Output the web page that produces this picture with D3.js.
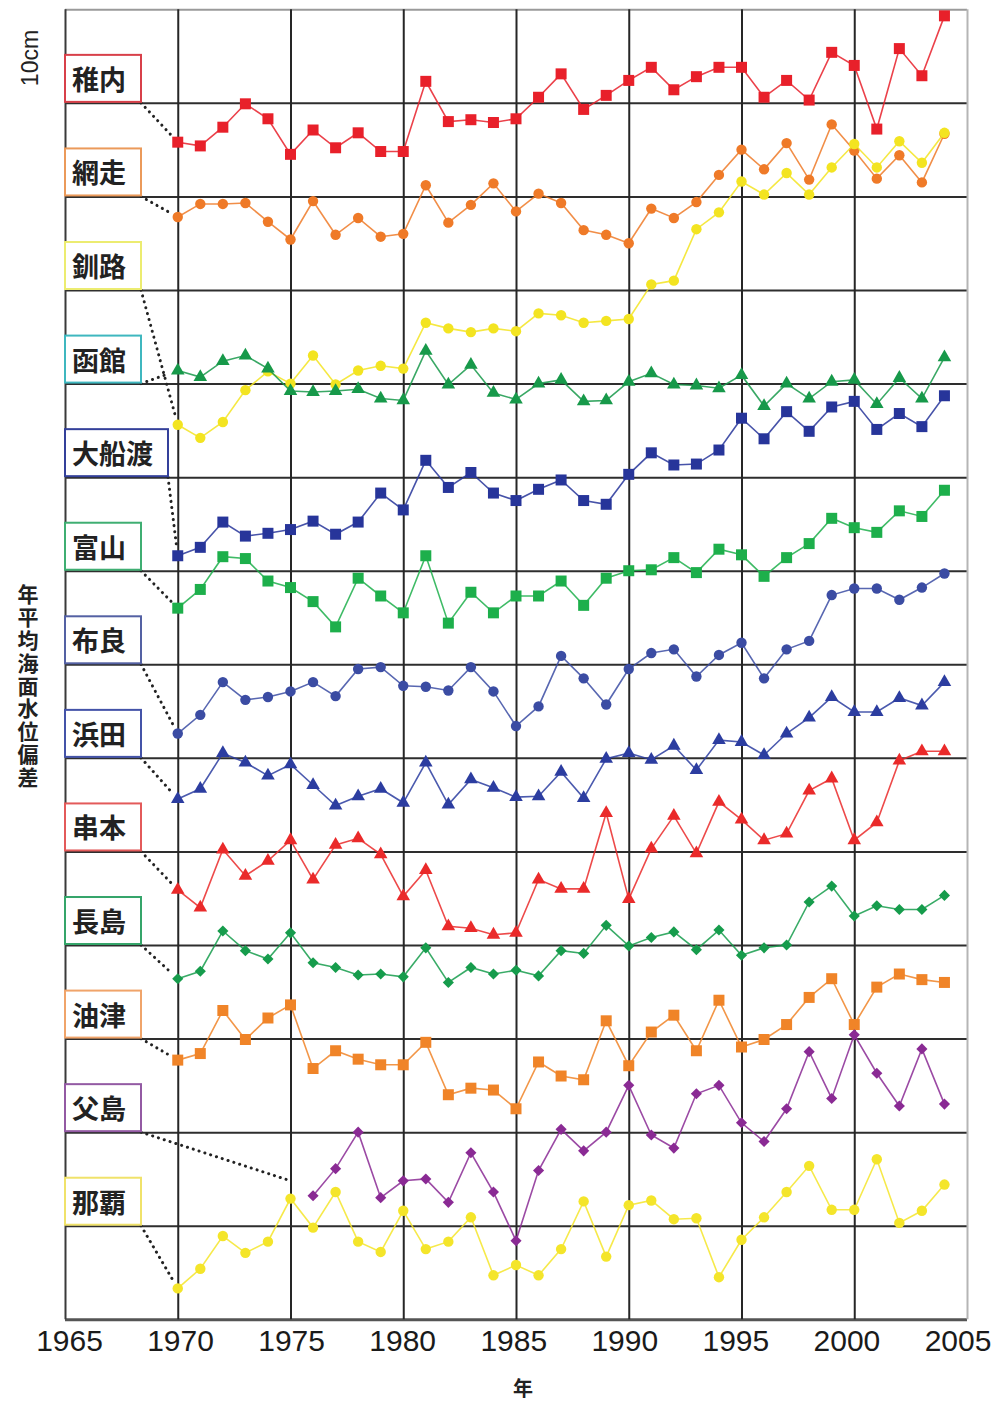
<!DOCTYPE html>
<html>
<head>
<meta charset="utf-8">
<script src="https://cdn.jsdelivr.net/npm/d3@7/dist/d3.min.js"></script>
<style>
  body { margin: 0; background: #fff; }
  text { font-family: "Liberation Sans", Arial, sans-serif; }
  .jp { font-family: "Noto Sans CJK JP", sans-serif; font-weight: bold; }
</style>
</head>
<body>
<div id="vis"></div>
<script>
// stations, top to bottom
var stations = ['稚内', '網走', '釧路', '函館', '大船渡', '富山', '布良', '浜田', '串本', '長島', '油津', '父島', '那覇'];

var years = [1970, 1971, 1972, 1973, 1974, 1975, 1976, 1977, 1978, 1979,
             1980, 1981, 1982, 1983, 1984, 1985, 1986, 1987, 1988, 1989,
             1990, 1991, 1992, 1993, 1994, 1995, 1996, 1997, 1998, 1999,
             2000, 2001, 2002, 2003, 2004];

var xTicks = ['1965', '1970', '1975', '1980', '1985', '1990', '1995', '2000', '2005'];

// annual mean sea level deviation (cm), each relative to its own baseline
var wakkanai   = [-4.2,-4.6,-2.6,-0.1,-1.7,-5.5,-2.9,-4.8,-3.2,-5.2, -5.2,2.3,-2.0,-1.8,-2.1,-1.7,0.6,3.1,-0.7,0.8, 2.4,3.8,1.4,2.8,3.8,3.8,0.6,2.4,0.3,5.4, 4.0,-2.8,5.8,2.9,9.3];
var abashiri   = [-2.2,-0.8,-0.8,-0.7,-2.7,-4.6,-0.5,-4.1,-2.3,-4.3, -4.0,1.2,-2.8,-0.9,1.4,-1.6,0.3,-0.7,-3.6,-4.1, -5.0,-1.3,-2.3,-0.6,2.3,5.0,2.9,5.7,1.8,7.7, 4.9,1.9,4.4,1.5,6.7];
var kushiro    = [-14.4,-15.8,-14.1,-10.7,-8.7,-10.0,-7.0,-10.1,-8.6,-8.1, -8.4,-3.5,-4.1,-4.5,-4.1,-4.4,-2.5,-2.7,-3.5,-3.3, -3.1,0.6,1.0,6.5,8.3,11.6,10.2,12.5,10.2,13.1, 15.6,13.1,15.9,13.6,16.8];
var hakodate   = [1.4,0.7,2.4,3.0,1.6,-0.8,-0.9,-0.8,-0.6,-1.6, -1.8,3.5,-0.1,2.0,-1.0,-1.7,0.0,0.4,-1.9,-1.8, 0.2,1.1,-0.1,-0.2,-0.5,0.9,-2.4,0.0,-1.6,0.2, 0.4,-2.2,0.6,-1.6,2.8];
var ofunato    = [-8.4,-7.5,-4.8,-6.3,-6.0,-5.6,-4.7,-6.1,-4.8,-1.7, -3.5,1.8,-1.1,0.5,-1.7,-2.5,-1.3,-0.3,-2.5,-2.9, 0.3,2.6,1.3,1.4,2.9,6.3,4.1,7.0,4.9,7.5, 8.1,5.1,6.8,5.4,8.7];
var toyama     = [-4.0,-2.0,1.5,1.3,-1.1,-1.8,-3.3,-6.0,-0.8,-2.7, -4.5,1.6,-5.6,-2.3,-4.5,-2.7,-2.7,-1.1,-3.7,-0.8, 0.0,0.1,1.4,-0.2,2.3,1.7,-0.6,1.4,2.9,5.6, 4.6,4.1,6.4,5.8,8.6];
var mera       = [-7.4,-5.4,-1.9,-3.8,-3.5,-2.9,-1.9,-3.4,-0.5,-0.3, -2.3,-2.4,-2.8,-0.3,-2.9,-6.6,-4.5,0.9,-1.5,-4.3, -0.5,1.2,1.6,-1.3,1.0,2.3,-1.5,1.6,2.5,7.4, 8.1,8.1,6.9,8.2,9.7];
var hamada     = [-4.4,-3.3,0.5,-0.5,-1.9,-0.7,-2.9,-5.1,-4.1,-3.3, -4.8,-0.5,-5.0,-2.3,-3.2,-4.2,-4.1,-1.5,-4.3,-0.1, 0.5,-0.2,1.3,-1.3,1.9,1.7,0.3,2.6,4.3,6.5, 4.9,4.9,6.4,5.6,8.1];
var kushimoto  = [-4.1,-6.0,0.2,-2.6,-1.0,1.2,-3.0,0.7,1.4,-0.3, -4.8,-2.0,-8.0,-8.2,-8.9,-8.7,-3.0,-4.0,-4.0,4.1, -5.1,0.3,3.8,-0.2,5.3,3.4,1.2,1.9,6.5,7.8, 1.2,3.1,9.7,10.7,10.7];
var nagashima  = [-3.6,-2.8,1.5,-0.6,-1.5,1.3,-1.9,-2.4,-3.2,-3.1, -3.4,-0.3,-4.0,-2.4,-3.1,-2.7,-3.3,-0.6,-0.9,2.1, -0.1,0.8,1.4,-0.5,1.6,-1.1,-0.3,0.0,4.6,6.3, 3.1,4.2,3.8,3.8,5.3];
var aburatsu   = [-2.3,-1.6,3.0,-0.1,2.2,3.6,-3.2,-1.3,-2.2,-2.8, -2.8,-0.4,-6.0,-5.3,-5.5,-7.5,-2.5,-4.0,-4.4,1.9, -2.9,0.7,2.5,-1.3,4.1,-0.9,-0.1,1.5,4.4,6.4, 1.5,5.5,6.9,6.3,6.0];
var chichijima = [null,null,null,null,null,null,-6.8,-3.9,0.0,-7.0, -5.2,-5.0,-7.5,-2.2,-6.4,-11.6,-4.1,0.3,-2.0,0.0, 5.0,-0.3,-1.7,4.1,5.0,1.0,-1.0,2.5,8.6,3.6, 10.4,6.3,2.8,8.9,3.0];
var naha       = [-6.7,-4.6,-1.1,-2.9,-1.7,2.9,-0.2,3.6,-1.7,-2.8, 1.6,-2.5,-1.7,0.9,-5.3,-4.2,-5.3,-2.5,2.6,-3.3, 2.2,2.7,0.7,0.8,-5.5,-1.5,0.9,3.6,6.4,1.7, 1.7,7.1,0.3,1.6,4.4];

var series = [wakkanai, abashiri, kushiro, hakodate, ofunato, toyama, mera,
              hamada, kushimoto, nagashima, aburatsu, chichijima, naha];

// 父島 has no data before 1976, its leader points at 1975
var leadTargets = { '父島': [1975, -5.2] };

var colors    = ['#e8202a','#ef7a28','#f3e421','#17994a','#27359a','#1daf4b','#3b4ca3',
                 '#2c3da0','#ea2a2a','#169c4c','#f08428','#8a2a94','#f4e52a'];
var boxColors = ['#d8404a','#eb9a5a','#ecec70','#3fb7bf','#34409a','#3fae72','#5461a3',
                 '#4453a8','#e35a5a','#35a56a','#f0a46a','#935aa3','#f0e26a'];
var shapes    = ['square','circle','circle','triangle','square','square','circle',
                 'triangle','triangle','diamond','square','diamond','circle'];

function drawChart() {
  var width = 1000, height = 1401;
  var plot = { left: 65, right: 967, top: 9.3, bottom: 1319.3 };

  var svg = d3.select('#vis')
    .append('svg')
    .attr('width', width)
    .attr('height', height)
    .style('background', '#fff');

  var xScale = d3.scaleLinear().domain([1965, 2005]).range([plot.left, plot.right]);
  var yScale = d3.scaleLinear().domain([0, 140]).range([plot.bottom, plot.top]);
  // the printed year labels sit on a slightly narrower spacing than the grid
  var xLabelScale = d3.scaleLinear().domain([1965, 2005]).range([69, 957.5]);

  // grid
  var yGrid = svg.append('g')
    .attr('class', 'y grid')
    .attr('transform', 'translate(' + plot.left + ',0)')
    .call(d3.axisLeft(yScale).tickValues(d3.range(0, 141, 10)).tickSize(-(plot.right - plot.left)).tickFormat(''));
  yGrid.select('.domain').remove();
  yGrid.selectAll('line')
    .attr('stroke', function(d){ return d === 140 ? '#9a9a9a' : (d === 0 ? '#555' : '#2e2e2e'); })
    .attr('stroke-width', function(d){ return d === 0 ? 3 : 2; });

  var xGrid = svg.append('g')
    .attr('class', 'x grid')
    .attr('transform', 'translate(0,' + plot.bottom + ')')
    .call(d3.axisBottom(xScale).tickValues(xTicks.map(Number)).tickSize(-(plot.bottom - plot.top)).tickFormat(''));
  xGrid.select('.domain').remove();
  xGrid.selectAll('line')
    .attr('stroke', function(d){ return d === 2005 ? '#b5b5b5' : (d === 1965 ? '#3a3a3a' : '#262626'); })
    .attr('stroke-width', 2);

  // year labels
  var xAxis = svg.append('g')
    .attr('class', 'x axis')
    .attr('transform', 'translate(0,' + plot.bottom + ')')
    .call(d3.axisBottom(xLabelScale).tickValues(xTicks.map(Number)).tickSize(0).tickPadding(10)
          .tickFormat(function(d, i){ return xTicks[i]; }));
  xAxis.select('.domain').remove();
  xAxis.selectAll('text')
    .style('font-family', '"Liberation Sans", Arial, sans-serif')
    .style('font-size', '30px')
    .attr('fill', '#1a1a1a');

  // axis titles
  svg.append('text')
    .attr('class', 'jp')
    .attr('x', 523).attr('y', 1396)
    .attr('text-anchor', 'middle')
    .style('font-size', '20px')
    .attr('fill', '#222')
    .text('年');

  svg.append('text')
    .attr('transform', 'translate(38,58) rotate(-90)')
    .attr('text-anchor', 'middle')
    .style('font-size', '23px')
    .attr('fill', '#222')
    .text('10cm');

  // vertical title, one upright character under the other
  svg.append('text')
    .attr('class', 'jp')
    .attr('x', 28).attr('y', 584)
    .style('font-size', '21px')
    .style('writing-mode', 'vertical-rl')
    .style('text-orientation', 'upright')
    .style('letter-spacing', '1.8px')
    .attr('fill', '#222')
    .text('年平均海面水位偏差');

  function markerPath(shape) {
    if (shape === 'square')   return d3.symbol(d3.symbolSquare, 121)();
    if (shape === 'circle')   return d3.symbol(d3.symbolCircle, 85)();
    if (shape === 'triangle') return d3.symbol(d3.symbolTriangle, 80)();
    return d3.symbol(d3.symbolSquare, 62)();
  }

  var line = d3.line()
    .defined(function(d){ return d.v !== null; })
    .x(function(d){ return xScale(d.year); })
    .y(function(d){ return yScale(d.base + d.v); });

  // station label boxes and dotted leaders
  stations.forEach(function(name, i) {
    var base = 130 - 10 * i;
    var gy = yScale(base);
    var bw = 22 + name.length * 27;
    var bx = plot.left;

    var t = leadTargets[name];
    var first = series[i].findIndex(function(v){ return v !== null; });
    var tx = t ? xScale(t[0]) : xScale(years[first]);
    var ty = t ? yScale(base + t[1]) : yScale(base + series[i][first]);
    var sx = bx + bw, sy = gy;
    var len = Math.sqrt((tx - sx) * (tx - sx) + (ty - sy) * (ty - sy));
    var gap = t ? 0 : 9;
    svg.append('line')
      .attr('x1', sx).attr('y1', sy)
      .attr('x2', tx - (tx - sx) * gap / len)
      .attr('y2', ty - (ty - sy) * gap / len)
      .attr('stroke', '#222')
      .attr('stroke-width', 3)
      .attr('stroke-linecap', 'round')
      .attr('stroke-dasharray', '0.1,6');

    svg.append('rect')
      .attr('x', bx).attr('y', gy - 48)
      .attr('width', bw).attr('height', 47)
      .attr('fill', '#fff')
      .attr('stroke', boxColors[i])
      .attr('stroke-width', 2);

    svg.append('text')
      .attr('class', 'jp')
      .attr('x', bx + 7).attr('y', gy - 13)
      .style('font-size', '27px')
      .attr('fill', '#222')
      .text(name);
  });

  // series
  stations.forEach(function(name, i) {
    var base = 130 - 10 * i;
    var pts = years.map(function(yr, j){ return {year: yr, v: series[i][j], base: base}; });

    var g = svg.append('g').attr('class', 'station');
    g.append('path')
      .attr('d', line(pts))
      .attr('fill', 'none')
      .attr('stroke', colors[i])
      .attr('stroke-opacity', 0.85)
      .attr('stroke-width', 1.6);

    g.selectAll('path.mark')
      .data(pts.filter(function(d){ return d.v !== null; }))
      .enter().append('path')
      .attr('class', 'mark')
      .attr('d', markerPath(shapes[i]))
      .attr('transform', function(d){
        var tr = 'translate(' + xScale(d.year) + ',' + yScale(d.base + d.v) + ')';
        return shapes[i] === 'diamond' ? tr + ' rotate(45)' : tr;
      })
      .attr('fill', colors[i]);
  });
}

drawChart();
</script>
</body>
</html>
